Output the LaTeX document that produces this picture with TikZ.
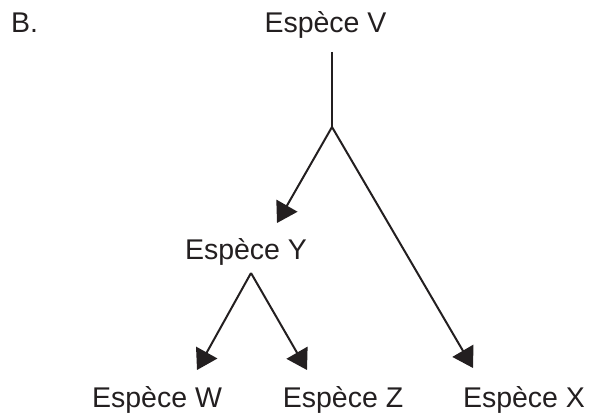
\documentclass[tikz,border=0pt]{standalone}
\usepackage{fontspec}
\setmainfont{Liberation Sans}
\usetikzlibrary{arrows.meta}
\definecolor{ink}{HTML}{231F20}
\tikzset{
  lbl/.style={anchor=base, inner sep=0pt, text=ink, font=\fontsize{28.5}{34}\selectfont},
  branch/.style={draw=ink, line width=2pt},
  arr/.style={branch, -{Triangle[length=20pt,width=24pt]}}
}
\begin{document}
\begin{tikzpicture}[x=1pt,y=-1pt]
\useasboundingbox (0,0) rectangle (596,417);
\node[lbl, anchor=base west] (B) at (11,33) {B.};
\node[lbl] (V) at (325.5,33) {Espèce V};
\node[lbl] (Y) at (246,259) {Espèce Y};
\node[lbl] (W) at (157,407) {Espèce W};
\node[lbl] (Z) at (343,407) {Espèce Z};
\node[lbl] (X) at (524,407) {Espèce X};
\coordinate (top) at (332,52);
\coordinate (b1) at (332,127);
\coordinate (b2) at (251,273);
\coordinate (tY) at (277,223);
\coordinate (tW) at (197,370);
\coordinate (tZ) at (307,370);
\coordinate (tX) at (473,368);
\draw[branch] (top) -- (b1);
\draw[arr] (b1) -- (tY);
\draw[arr] (b1) -- (tX);
\draw[arr] (b2) -- (tW);
\draw[arr] (b2) -- (tZ);
\end{tikzpicture}
\end{document}
